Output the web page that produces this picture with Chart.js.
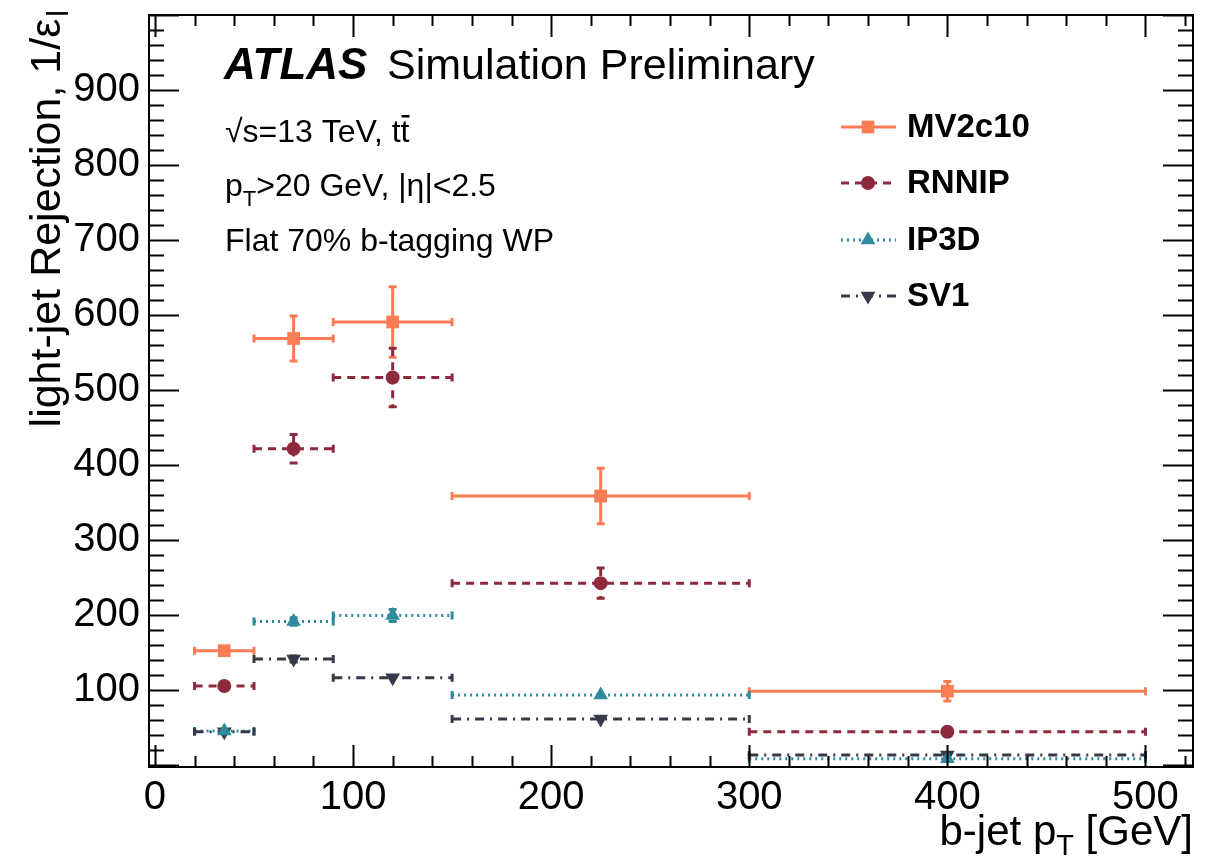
<!DOCTYPE html>
<html>
<head>
<meta charset="utf-8">
<script src="https://cdn.jsdelivr.net/npm/chart.js@4/dist/chart.umd.min.js"></script>
<style>
  body { margin: 0; background: #fff; }
  canvas { display: block; }
</style>
</head>
<body>
<canvas id="mycanvas" width="1220" height="860"></canvas>
<script>
// b-jet pT bins [GeV]
var binLow = [20, 50, 90, 150, 300];
var binHigh = [50, 90, 150, 300, 500];
var binCenter = [35, 70, 120, 225, 400];

// light-jet rejection per tagger
var mv2c10 = [153, 569, 591, 359, 99];
var mv2c10Err = [4, 30, 47, 37, 13];
var rnnip = [106, 422, 517, 243, 45];
var rnnipErr = [3, 19, 39, 20, 3];
var ip3d = [46, 192, 200, 94, 9];
var ip3dErr = [2, 5, 8, 3, 1];
var sv1 = [45, 142, 117, 62, 14];
var sv1Err = [2, 4, 3, 2, 2];

var xTicks = [0, 100, 200, 300, 400, 500];
var yTicks = [100, 200, 300, 400, 500, 600, 700, 800, 900];

var FONT = '"Liberation Sans", Arial, Helvetica, sans-serif';

function makeSet(label, vals, errs, color, dash, style, radius, rotation) {
    var pts = [];
    for (var i = 0; i < vals.length; i++) {
        pts.push({x: binCenter[i], y: vals[i], xl: binLow[i], xh: binHigh[i], e: errs[i]});
    }
    return {
        label: label,
        data: pts,
        showLine: false,
        pointStyle: style,
        pointRadius: radius,
        pointHoverRadius: radius,
        pointRotation: rotation,
        pointBackgroundColor: color,
        pointBorderColor: color,
        pointBorderWidth: 0,
        borderColor: color,
        backgroundColor: color,
        dash: dash
    };
}

var datasets = [
    makeSet("MV2c10", mv2c10, mv2c10Err, "#F97C55", [], 'rect', 9, 0),
    makeSet("RNNIP", rnnip, rnnipErr, "#8E2A3E", [8, 6], 'circle', 7, 0),
    makeSet("IP3D", ip3d, ip3dErr, "#2F8A9C", [2, 4], 'triangle', 8.5, 0),
    makeSet("SV1", sv1, sv1Err, "#363A48", [9, 6, 2, 6], 'triangle', 8.5, 180)
];

// error bars drawn behind the markers
var errorBars = {
    id: 'errorBars',
    beforeDatasetsDraw: function(chart) {
        var ctx = chart.ctx;
        var xs = chart.scales.x, ys = chart.scales.y;
        chart.data.datasets.forEach(function(ds) {
            ctx.save();
            ctx.strokeStyle = ds.borderColor;
            ctx.lineWidth = 3;
            ds.data.forEach(function(p) {
                var px = xs.getPixelForValue(p.x), py = ys.getPixelForValue(p.y);
                var x1 = xs.getPixelForValue(p.xl), x2 = xs.getPixelForValue(p.xh);
                var y1 = ys.getPixelForValue(p.y + p.e), y2 = ys.getPixelForValue(p.y - p.e);
                ctx.setLineDash(ds.dash);
                ctx.beginPath();
                ctx.moveTo(x1, py); ctx.lineTo(x2, py);
                ctx.moveTo(px, y1); ctx.lineTo(px, y2);
                ctx.stroke();
                ctx.setLineDash([]);
                ctx.beginPath();
                ctx.moveTo(x1, py - 4); ctx.lineTo(x1, py + 4);
                ctx.moveTo(x2, py - 4); ctx.lineTo(x2, py + 4);
                if (p.e > 3) {
                    ctx.moveTo(px - 4, y1); ctx.lineTo(px + 4, y1);
                    ctx.moveTo(px - 4, y2); ctx.lineTo(px + 4, y2);
                }
                ctx.stroke();
            });
            ctx.restore();
        });
    }
};

// frame, inward ticks, titles, labels and legend
var decorations = {
    id: 'decorations',
    afterDraw: function(chart) {
        var ctx = chart.ctx;
        var a = chart.chartArea;
        var xs = chart.scales.x, ys = chart.scales.y;
        ctx.save();
        ctx.strokeStyle = '#000';
        ctx.lineWidth = 2;
        ctx.setLineDash([]);
        ctx.strokeRect(a.left, a.top, a.right - a.left, a.bottom - a.top);

        ctx.beginPath();
        for (var v = 0; v <= 520; v += 20) {
            var px = Math.round(xs.getPixelForValue(v)) + 0.5;
            var len = (v % 100 === 0) ? 22 : 11;
            ctx.moveTo(px, a.bottom); ctx.lineTo(px, a.bottom - len);
            ctx.moveTo(px, a.top); ctx.lineTo(px, a.top + len);
        }
        for (var w = 0; w <= 1000; w += 20) {
            var py = Math.round(ys.getPixelForValue(w)) + 0.5;
            var len2 = (w % 100 === 0) ? 30 : 15;
            ctx.moveTo(a.left, py); ctx.lineTo(a.left + len2, py);
            ctx.moveTo(a.right, py); ctx.lineTo(a.right - len2, py);
        }
        ctx.stroke();

        ctx.fillStyle = '#000';
        ctx.textBaseline = 'alphabetic';

        // x title
        ctx.textAlign = 'left';
        var t1 = 'b-jet p', t2 = ' [GeV]';
        ctx.font = '29px ' + FONT;
        var wT = ctx.measureText('T').width;
        ctx.font = '42px ' + FONT;
        var total = ctx.measureText(t1).width + wT + ctx.measureText(t2).width;
        var sx = a.right - total;
        ctx.fillText(t1, sx, 845);
        sx += ctx.measureText(t1).width;
        ctx.font = '29px ' + FONT;
        ctx.fillText('T', sx, 855);
        sx += wT;
        ctx.font = '42px ' + FONT;
        ctx.fillText(t2, sx, 845);

        // y title
        ctx.save();
        ctx.translate(60, 10);
        ctx.rotate(-Math.PI / 2);
        ctx.font = '30px ' + FONT;
        var wl = ctx.measureText('l').width;
        ctx.font = '43px ' + FONT;
        var yt = 'light-jet Rejection, 1/\u03b5';
        var ytw = ctx.measureText(yt).width;
        ctx.fillText(yt, -ytw - wl - 2, 0);
        ctx.font = '30px ' + FONT;
        ctx.fillText('l', -wl, 8);
        ctx.restore();

        // ATLAS label
        ctx.font = 'italic bold 44px ' + FONT;
        ctx.fillText('ATLAS', 224, 79);
        ctx.font = '43px ' + FONT;
        ctx.fillText('Simulation Preliminary', 387, 79);

        ctx.font = '32px ' + FONT;
        var s1 = '\u221As=13 TeV, t';
        ctx.fillText(s1, 225, 142);
        var tx = 225 + ctx.measureText(s1).width;
        ctx.fillText('t', tx, 142);
        var tw = ctx.measureText('t').width;
        ctx.fillRect(tx + 1, 115, tw - 1, 2.5);

        ctx.fillText('p', 225, 196);
        var pw = ctx.measureText('p').width;
        ctx.font = '22px ' + FONT;
        ctx.fillText('T', 225 + pw, 206);
        var Tw = ctx.measureText('T').width;
        ctx.font = '32px ' + FONT;
        ctx.fillText('>20 GeV, |\u03b7|<2.5', 225 + pw + Tw, 196);

        ctx.fillText('Flat 70% b-tagging WP', 225, 251);

        // legend
        var legY = [127, 183, 240, 296];
        chart.data.datasets.forEach(function(ds, i) {
            var y = legY[i];
            ctx.strokeStyle = ds.borderColor;
            ctx.lineWidth = 3;
            ctx.setLineDash(ds.dash);
            ctx.beginPath();
            ctx.moveTo(841, y); ctx.lineTo(896, y);
            ctx.stroke();
            ctx.setLineDash([]);
            ctx.fillStyle = ds.pointBackgroundColor;
            Chart.helpers.drawPoint(ctx, {
                pointStyle: ds.pointStyle,
                radius: ds.pointRadius,
                rotation: ds.pointRotation,
                borderWidth: 0
            }, 868, y);
            ctx.fillStyle = '#000';
            ctx.font = 'bold 33px ' + FONT;
            ctx.textBaseline = 'middle';
            ctx.fillText(ds.label, 907, y + 1);
            ctx.textBaseline = 'alphabetic';
        });
        ctx.restore();
    }
};

var ctx = document.getElementById('mycanvas');
var chart = new Chart(ctx, {
    type: 'scatter',
    data: { datasets: datasets },
    plugins: [errorBars, decorations],
    options: {
        responsive: false,
        animation: false,
        events: [],
        layout: { padding: { left: 0, right: 27, top: 15, bottom: 0 } },
        plugins: { legend: { display: false }, tooltip: { enabled: false } },
        scales: {
            x: {
                type: 'linear',
                min: -3,
                max: 524,
                grid: { display: false, drawTicks: false },
                border: { display: false },
                afterBuildTicks: function(s) { s.ticks = xTicks.map(function(v) { return {value: v}; }); },
                afterFit: function(s) { s.height = 93; s.paddingLeft = 0; s.paddingRight = 0; },
                ticks: {
                    autoSkip: false, maxRotation: 0, padding: 7, color: '#000',
                    font: { family: FONT, size: 40 }
                }
            },
            y: {
                type: 'linear',
                min: -2,
                max: 1000,
                grid: { display: false, drawTicks: false },
                border: { display: false },
                afterBuildTicks: function(s) { s.ticks = yTicks.map(function(v) { return {value: v}; }); },
                afterFit: function(s) { s.width = 149; s.paddingTop = 0; s.paddingBottom = 0; },
                ticks: {
                    autoSkip: false, padding: 9, color: '#000',
                    font: { family: FONT, size: 40 }
                }
            }
        }
    }
});
</script>
</body>
</html>
